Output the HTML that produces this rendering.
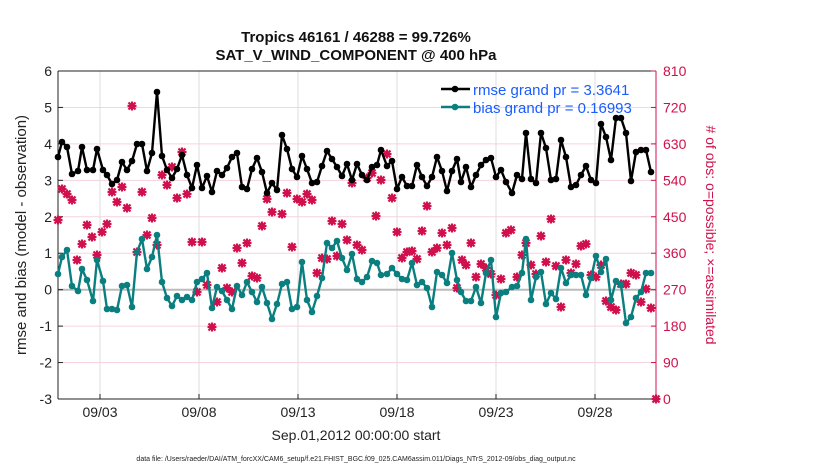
<!DOCTYPE html>
<html><head><meta charset="utf-8"><style>
body{margin:0;background:#fff;width:830px;height:470px;overflow:hidden}
svg{display:block;font-family:"Liberation Sans",sans-serif}
</style></head><body>
<svg id="s" width="830" height="470" xmlns="http://www.w3.org/2000/svg"></svg>
<script>
const L=58,R=656,T=71,B=399;
let h='';
for(let i=0;i<=9;i++){let y=T+(B-T)*i/9;h+=`<line x1="${L}" x2="${R}" y1="${y}" y2="${y}" stroke="#f6d3de" stroke-width="1"/>`;}
const xt=[100,199,298,397,496,595],xl=['09/03','09/08','09/13','09/18','09/23','09/28'];
xt.forEach((x,i)=>{h+=`<line x1="${x}" x2="${x}" y1="${T}" y2="${B}" stroke="#ddd"/>`;
h+=`<line x1="${x}" x2="${x}" y1="${B}" y2="${B-5}" stroke="#222"/>`;
h+=`<text x="${x}" y="417" font-size="14" text-anchor="middle" fill="#222">${xl[i]}</text>`;});
h+=`<line x1="${L}" x2="${R}" y1="289.7" y2="289.7" stroke="#bbb" stroke-width="2"/>`;
h+=`<line x1="${L}" x2="${L}" y1="${T}" y2="${B}" stroke="#222"/><line x1="${L}" x2="${R}" y1="${T}" y2="${T}" stroke="#222"/><line x1="${L}" x2="${R}" y1="${B}" y2="${B}" stroke="#222"/><line x1="${R}" x2="${R}" y1="${T}" y2="${B}" stroke="#d0104c"/>`;
for(let i=0;i<=9;i++){let y=T+(B-T)*i/9;
h+=`<line x1="${L}" x2="${L+5}" y1="${y}" y2="${y}" stroke="#222"/><line x1="${R}" x2="${R-5}" y1="${y}" y2="${y}" stroke="#d0104c"/>`;
h+=`<text x="${L-6}" y="${y+5}" font-size="14" text-anchor="end" fill="#222">${6-i}</text>`;
h+=`<text x="${R+7}" y="${y+5}" font-size="14" fill="#d0104c">${810-90*i}</text>`;}
const pk=[[132,106],[62,189],[67,194],[72,200],[58,220],[82,244],[87,225],[92,237],[102,232],[107,224],[97,255],[77,260],[112,192],[117,202],[122,187],[127,208],[142,192],[152,218],[147,235],[157,245],[137,252],[162,175],[167,185],[172,167],[177,198],[182,152],[187,194],[192,242],[202,242],[197,292],[207,285],[212,327],[217,302],[222,268],[227,288],[232,292],[237,248],[242,263],[247,243],[252,276],[257,278],[262,226],[272,212],[267,199],[282,214],[287,193],[292,247],[297,199],[302,202],[307,194],[312,200],[317,273],[322,258],[327,259],[332,221],[337,256],[342,224],[347,240],[352,183],[357,245],[362,250],[367,178],[372,173],[376,216],[381,180],[387,154],[392,198],[397,232],[402,258],[407,252],[412,251],[417,259],[422,231],[427,206],[432,252],[437,248],[442,233],[447,245],[452,228],[457,288],[462,260],[466,265],[471,243],[476,277],[481,264],[486,268],[491,274],[496,295],[501,279],[506,233],[511,230],[517,277],[522,255],[526,243],[531,265],[536,274],[541,236],[546,262],[551,219],[556,266],[561,307],[566,260],[571,273],[576,264],[581,246],[586,244],[591,275],[596,277],[601,265],[606,301],[611,307],[616,310],[621,284],[626,284],[631,273],[636,275],[641,302],[646,289],[651,308],[656,399]];
pk.forEach(p=>{h+=`<path d="M${p[0]-3.5} ${p[1]-3.5}L${p[0]+3.5} ${p[1]+3.5}M${p[0]-3.5} ${p[1]+3.5}L${p[0]+3.5} ${p[1]-3.5}M${p[0]-4.5} ${p[1]}H${p[0]+4.5}M${p[0]} ${p[1]-4.5}V${p[1]+4.5}" stroke="#d0104c" stroke-width="2.2"/>`;});
function series(pts,c){h+=`<polyline points="${pts.map(p=>p.join(',')).join(' ')}" fill="none" stroke="${c}" stroke-width="2.4" stroke-linejoin="round"/>`;
pts.forEach(p=>h+=`<circle cx="${p[0]}" cy="${p[1]}" r="3.3" fill="${c}"/>`);}
const rm=[[58,157],[62,142],[67,147],[72,174],[78,171],[82,147],[87,170],[93,170],[97,149],[103,170],[107,175],[112,184],[117,180],[122,162],[127,170],[132,161],[137,144],[142,144],[147,171],[152,153],[157,92],[162,156],[167,170],[172,178],[177,169],[182,155],[187,175],[192,188],[197,165],[202,188],[207,176],[212,192],[217,171],[222,175],[227,168],[232,157],[237,153],[242,187],[247,189],[252,169],[257,158],[262,172],[267,193],[272,183],[277,190],[282,135],[287,149],[292,169],[297,177],[302,156],[307,169],[312,183],[317,182],[322,166],[327,151],[332,159],[337,167],[342,176],[347,164],[352,180],[357,164],[362,175],[367,180],[372,167],[377,165],[381,150],[387,166],[392,161],[397,189],[402,177],[407,186],[412,186],[417,165],[422,177],[427,186],[432,177],[437,157],[442,171],[447,191],[452,171],[457,159],[461,182],[466,167],[471,187],[476,175],[481,165],[486,160],[491,158],[496,177],[501,170],[506,182],[512,193],[517,175],[522,179],[526,133],[531,179],[536,183],[541,133],[546,148],[551,180],[556,179],[561,140],[566,157],[571,187],[576,185],[581,175],[586,166],[591,180],[596,183],[601,124],[606,137],[611,160],[616,118],[621,118],[626,133],[631,181],[636,152],[641,150],[646,150],[651,172]];
const bi=[[58,274],[62,257],[67,250],[72,286],[78,291],[82,269],[87,280],[93,301],[97,260],[103,281],[107,309],[112,309],[117,310],[122,286],[127,285],[132,307],[137,252],[142,239],[147,269],[152,257],[157,235],[162,282],[167,298],[172,306],[177,296],[182,300],[187,297],[192,300],[197,282],[202,279],[207,273],[212,308],[217,287],[222,291],[227,300],[232,309],[237,286],[242,295],[247,282],[252,292],[257,302],[262,287],[267,303],[272,319],[277,304],[282,284],[287,282],[292,309],[297,307],[302,262],[307,300],[312,312],[317,296],[322,278],[327,243],[332,248],[337,241],[342,258],[347,270],[352,254],[357,279],[362,282],[367,277],[372,261],[377,263],[381,275],[387,274],[392,268],[397,274],[402,279],[407,280],[412,263],[417,285],[422,282],[427,288],[432,307],[437,272],[442,275],[447,283],[452,253],[457,280],[461,292],[466,301],[471,301],[476,287],[481,303],[486,273],[491,260],[496,317],[501,293],[506,292],[512,287],[517,286],[522,273],[526,239],[531,300],[536,277],[541,272],[546,304],[551,293],[556,299],[561,268],[566,283],[571,275],[576,275],[581,275],[586,295],[591,278],[596,256],[601,272],[606,259],[611,300],[616,281],[621,285],[626,323],[631,317],[636,298],[641,292],[646,273],[651,273]];
series(rm,'#000');series(bi,'#0b7f7f');
h+=`<line x1="441" x2="470" y1="89" y2="89" stroke="#000" stroke-width="2.4"/><circle cx="455" cy="89" r="3.3"/>`;
h+=`<line x1="441" x2="470" y1="107" y2="107" stroke="#0b7f7f" stroke-width="2.4"/><circle cx="455" cy="107" r="3.3" fill="#0b7f7f"/>`;
h+=`<text x="473" y="95" font-size="15" fill="#1a5cff">rmse grand pr = 3.3641</text><text x="473" y="113" font-size="15" fill="#1a5cff">bias grand pr = 0.16993</text>`;
h+=`<text x="356" y="42" font-size="15" font-weight="bold" text-anchor="middle" fill="#111">Tropics 46161 / 46288 = 99.726%</text>`;
h+=`<text x="356" y="60" font-size="15" font-weight="bold" text-anchor="middle" fill="#111">SAT_V_WIND_COMPONENT @ 400 hPa</text>`;
h+=`<text x="356" y="440" font-size="14" text-anchor="middle" fill="#222">Sep.01,2012 00:00:00 start</text>`;
h+=`<text x="356" y="461" font-size="7" text-anchor="middle" fill="#222">data file: /Users/raeder/DAI/ATM_forcXX/CAM6_setup/f.e21.FHIST_BGC.f09_025.CAM6assim.011/Diags_NTrS_2012-09/obs_diag_output.nc</text>`;
h+=`<text transform="translate(26,235) rotate(-90)" font-size="15" text-anchor="middle" fill="#222">rmse and bias (model - observation)</text>`;
h+=`<text transform="translate(706,235) rotate(90)" font-size="14" text-anchor="middle" fill="#d0104c"># of obs: o=possible; ×=assimilated</text>`;
document.getElementById('s').innerHTML=h;
</script>
</body></html>
